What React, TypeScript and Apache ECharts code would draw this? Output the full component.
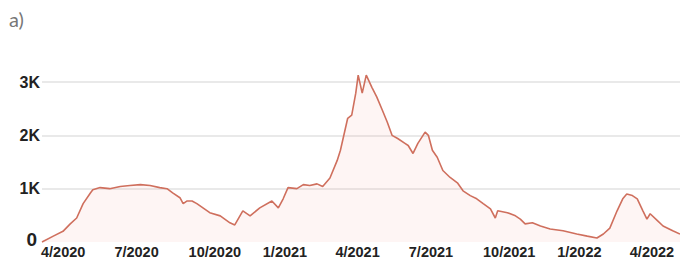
import React, { useEffect, useRef } from "react";
import * as echarts from "echarts";

const dates: string[] = [
  "2020-04-01", "2020-04-15", "2020-04-27", "2020-05-06", "2020-05-14", "2020-05-22", "2020-05-31",
  "2020-06-03", "2020-06-12", "2020-06-24", "2020-07-07", "2020-07-19", "2020-08-01", "2020-08-13",
  "2020-08-25", "2020-09-03", "2020-09-10", "2020-09-19", "2020-09-23", "2020-09-28", "2020-10-04",
  "2020-10-10", "2020-10-26", "2020-11-08", "2020-11-20", "2020-11-26", "2020-12-06", "2020-12-15",
  "2020-12-27", "2021-01-11", "2021-01-19", "2021-01-25", "2021-01-31", "2021-02-11", "2021-02-19",
  "2021-02-27", "2021-03-08", "2021-03-15", "2021-03-24", "2021-04-02", "2021-04-06", "2021-04-15",
  "2021-04-20", "2021-04-25", "2021-04-28", "2021-05-03", "2021-05-08", "2021-05-15", "2021-05-21",
  "2021-05-28", "2021-06-03", "2021-06-09", "2021-06-16", "2021-06-25", "2021-06-29", "2021-07-05",
  "2021-07-11", "2021-07-20", "2021-07-24", "2021-07-29", "2021-08-04", "2021-08-11", "2021-08-20",
  "2021-08-29", "2021-09-05", "2021-09-14", "2021-09-22", "2021-09-30", "2021-10-09", "2021-10-15",
  "2021-10-18", "2021-10-30", "2021-11-09", "2021-11-15", "2021-11-21", "2021-11-30", "2021-12-10",
  "2021-12-22", "2022-01-07", "2022-01-24", "2022-02-06", "2022-02-18", "2022-02-26", "2022-03-06",
  "2022-03-15", "2022-03-22", "2022-03-27", "2022-04-03", "2022-04-09", "2022-04-16", "2022-04-21",
  "2022-04-25", "2022-05-04", "2022-05-11", "2022-05-23", "2022-06-01",
];

const values: number[] = [
  0, 110, 200, 340, 450, 720, 920,
  980, 1020, 1000, 1040, 1060, 1075, 1060,
  1020, 1000, 920, 830, 720, 770, 770,
  720, 550, 490, 360, 320, 585, 490,
  640, 770, 640, 810, 1020, 1000, 1075,
  1060, 1090, 1040, 1200, 1530, 1720, 2320,
  2380, 2790, 3130, 2790, 3130, 2900, 2720,
  2470, 2250, 2000, 1940, 1850, 1810, 1660,
  1850, 2060, 2000, 1720, 1590, 1340, 1210,
  1110, 960, 870, 810, 720, 620, 450,
  585, 550, 490, 430, 340, 360, 300,
  245, 210, 150, 110, 75, 150, 260,
  585, 810, 900, 870, 810, 585, 430,
  530, 400, 300, 210, 150,
];

const xTickDates: string[] = [
  "2020-04-01", "2020-07-01", "2020-10-01", "2021-01-01", "2021-04-01",
  "2021-07-01", "2021-10-01", "2022-01-01", "2022-04-01",
];
const xTickLabels: string[] = [
  "4/2020", "7/2020", "10/2020", "1/2021", "4/2021", "7/2021", "10/2021", "1/2022", "4/2022",
];

const yTicks: number[] = [0, 1000, 2000, 3000];
const panelLabel = "a)";

const ts = (s: string) => {
  const [y, m, d] = s.split("-").map(Number);
  return Date.UTC(y, m - 1, d);
};

const FONT = "'Liberation Sans', Arial, sans-serif";

export default function App() {
  const ref = useRef<HTMLDivElement>(null);
  useEffect(() => {
    if (!ref.current) return;
    const chart = echarts.init(ref.current, undefined, { renderer: "svg" });
    chart.setOption({
      animation: false,
      useUTC: true,
      backgroundColor: "#ffffff",
      grid: { left: 42, right: 0, top: 82, bottom: 17, containLabel: false },
      xAxis: {
        type: "time",
        min: ts("2020-04-01"),
        max: ts("2022-06-01"),
        axisLine: { show: false },
        axisTick: { show: false },
        splitLine: { show: false },
        axisLabel: { show: false },
      },
      yAxis: {
        type: "value",
        min: yTicks[0],
        max: yTicks[yTicks.length - 1],
        interval: 1000,
        axisLine: { show: false },
        axisTick: { show: false },
        splitLine: {
          show: true,
          lineStyle: { color: ["rgba(0,0,0,0)", "#e9e9e9", "#e9e9e9", "#e9e9e9"], width: 2 },
        },
        axisLabel: {
          margin: 2,
          color: "#222",
          fontFamily: FONT,
          formatter: (v: number) => (v === 0 ? "{z|0}" : `{k|${v / 1000}K}`),
          rich: {
            z: { fontSize: 19, fontWeight: "bold", color: "#222", fontFamily: FONT, padding: [0, 3, 6, 0] },
            k: { fontSize: 16, fontWeight: "bold", color: "#222", fontFamily: FONT },
          },
        },
      },
      series: [
        {
          type: "line",
          data: dates.map((d, i) => [ts(d), values[i]]),
          showSymbol: false,
          symbol: "none",
          clip: false,
          lineStyle: { color: "#cf6f5d", width: 1.6 },
          areaStyle: { color: "rgba(240,150,140,0.14)" },
        },
      ],
    });

    const baseY = chart.convertToPixel({ yAxisIndex: 0 }, 0) as number;
    const labelGraphics = xTickDates.map((d, i) => {
      const px = chart.convertToPixel({ xAxisIndex: 0 }, ts(d)) as number;
      return {
        type: "text",
        x: px - 1,
        y: baseY + 2,
        style: {
          text: xTickLabels[i],
          fontSize: 14.5,
          fontWeight: "bold",
          fontFamily: FONT,
          fill: "#222",
          align: "left",
          verticalAlign: "top",
        },
      };
    });
    chart.setOption({
      graphic: [
        {
          type: "text",
          left: 9,
          top: 9,
          style: {
            text: panelLabel,
            fontSize: 20,
            fontFamily: "Lato, 'Open Sans', sans-serif",
            fill: "#777",
          },
        },
        ...labelGraphics,
      ],
    });
    return () => chart.dispose();
  }, []);
  return (
    <div
      ref={ref}
      style={{ position: "fixed", left: 0, top: 0, width: 680, height: 259 }}
    />
  );
}
